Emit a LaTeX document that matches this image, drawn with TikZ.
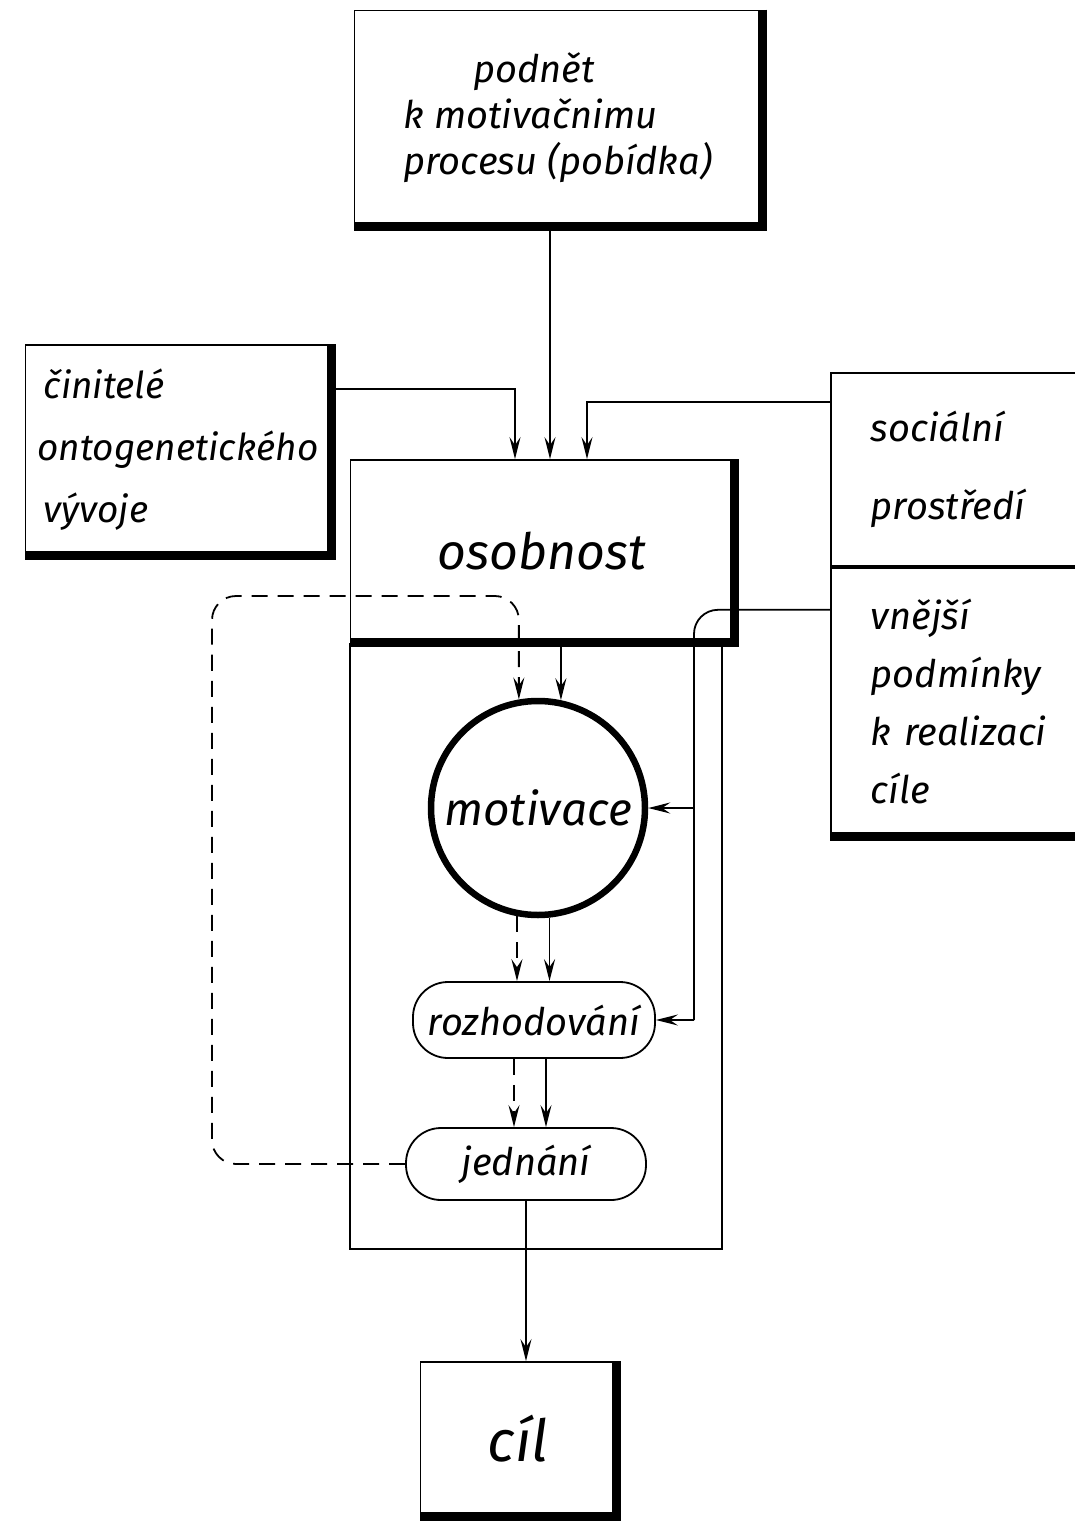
\documentclass[tikz,border=0pt]{standalone}
\usepackage{fontspec}
\setmainfont{Fira Sans}
\usetikzlibrary{arrows.meta,positioning}

\newcommand{\txtsize}[2]{\fontsize{#1}{#2}\selectfont\itshape}
\newcommand{\heavyedge}[1]{\draw[heavy] (#1.north east) -- (#1.south east) -- (#1.south west);}

\tikzset{
  thinline/.style={line width=1.8pt},
  heavy/.style={line width=9pt},
  box/.style={draw,thinline,rectangle,inner sep=0pt,align=left,font=\txtsize{38}{46}},
  ring/.style={draw,circle,line width=6.5pt,inner sep=0pt,font=\txtsize{46}{60}},
  pill/.style={draw,thinline,rectangle,rounded corners=35pt,inner sep=0pt,font=\txtsize{38}{46}},
  link/.style={thinline,-{Stealth[length=22pt,width=11pt,inset=8pt]}},
  dashlink/.style={link,dash pattern=on 16pt off 10pt}
}

\begin{document}
\begin{tikzpicture}[x=1pt,y=-1pt]
  \useasboundingbox (0,0) rectangle (1074,1522);

  \node[box,minimum width=407pt,minimum height=215pt] (podnet) at (558,118)
    {\hspace*{70pt}podnět\\k motivačnimu\\procesu (pobídka)};
  \heavyedge{podnet}

  \node[box,minimum width=305pt,minimum height=210pt,font=\txtsize{37}{62}] (cinitele) at (178,450)
    {\hspace*{6pt}činitelé\\ontogenetického\\\hspace*{6pt}vývoje};
  \heavyedge{cinitele}

  \node[box,anchor=north west,minimum width=280pt,minimum height=193pt,text width=200pt,
    font=\txtsize{38}{78}] (social) at (830,372) {sociální\\prostředí};
  \node[box,anchor=north west,minimum width=280pt,minimum height=268pt,text width=200pt,
    font=\txtsize{38}{58}] (ext) at (social.south west) {vnější\\podmínky\\k realizaci\\cíle};
  \draw[heavy] (ext.south west) -- (ext.south east);

  \node[box,minimum width=383pt,minimum height=182pt,font=\txtsize{50}{60}] (osob) at (542,551) {osobnost};
  \heavyedge{osob}
  \draw[thinline] (osob.south west) -- ++(0,606) -- ++(372,0) -- ++(0,-606);

  \node[ring,minimum size=214pt] (motiv) at (538,808) {motivace};
  \node[pill,minimum width=242pt,minimum height=76pt] (rozhod) at (534,1020) {rozhodování};
  \node[pill,minimum width=240pt,minimum height=72pt] (jednani) at (526,1164) {jednání};
  \node[box,minimum width=195pt,minimum height=154pt,font=\txtsize{58}{60}] (cil) at (518,1439) {cíl};
  \heavyedge{cil}

  \coordinate (loop) at (212,596);
  \coordinate (rail) at (694,0);

  \draw[link] ([xshift=-8pt]podnet.south) -- ([xshift=-8pt]podnet.south |- osob.north);
  \draw[link] ([yshift=-45pt]cinitele.north east) -| ([xshift=-27pt]osob.north);
  \draw[link] ([yshift=-30pt]social.north west) -| ([xshift=45pt]osob.north);

  \draw[link] (osob.south -| motiv.78) -- (motiv.78);
  \draw[dashlink,rounded corners=24pt] (jednani.west) -| (loop) -| (motiv.100);

  \draw[thinline,rounded corners=24pt] ([yshift=-43pt]ext.north west) -| (rail |- rozhod.east);
  \draw[link] (rail |- motiv.east) -- (motiv.east);
  \draw[link] (rail |- rozhod.east) -- (rozhod.east);

  \draw[dashlink] (motiv.259) -- (motiv.259 |- rozhod.north);
  \draw[link] (motiv.276) -- (motiv.276 |- rozhod.north);
  \draw[dashlink] ([xshift=-20pt]rozhod.south) -- ([xshift=-20pt]rozhod.south |- jednani.north);
  \draw[link] ([xshift=12pt]rozhod.south) -- ([xshift=12pt]rozhod.south |- jednani.north);

  \draw[link] (jednani.south) -- (jednani.south |- cil.north);
\end{tikzpicture}
\end{document}
